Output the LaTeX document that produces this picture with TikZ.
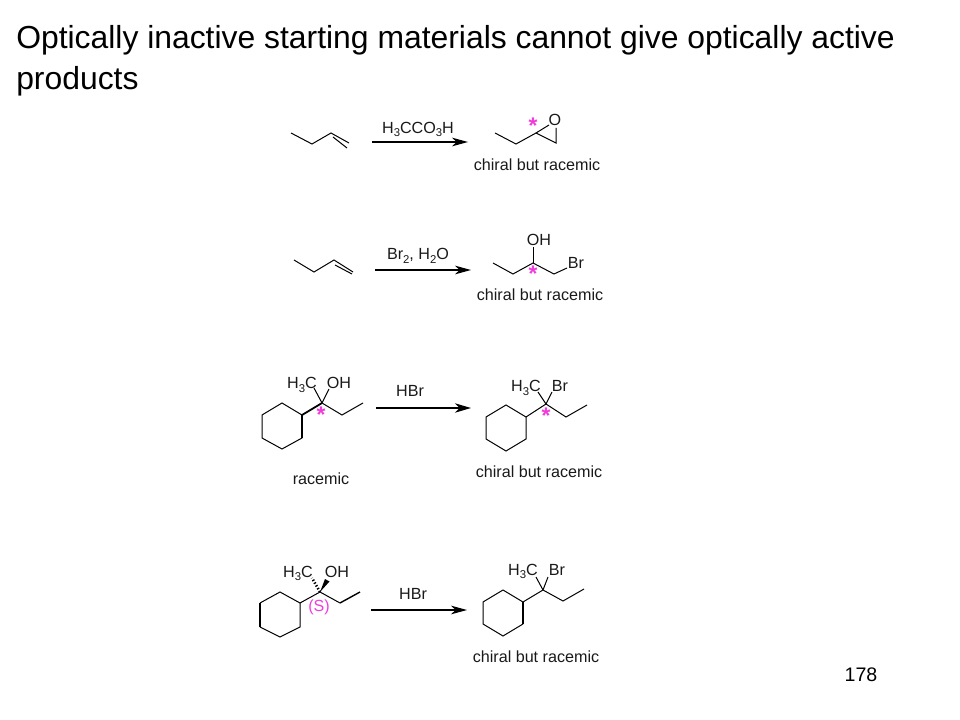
\documentclass[tikz,border=0pt]{standalone}
\usepackage{fontspec}
\setmainfont{Liberation Sans}
\usetikzlibrary{arrows.meta,decorations.markings}
\definecolor{starpink}{RGB}{240,60,220}
\definecolor{txt}{RGB}{25,25,25}
\tikzset{
  bond/.style={draw=black,line width=0.75pt,line join=miter},
  boldbond/.style={draw=black,line width=1.35pt},
  midbond/.style={draw=black,line width=1.05pt},
  rxn/.style={draw=black,line width=0.9pt,-{Stealth[length=12pt,width=6.5pt,inset=3.5pt]}},
  rxnthick/.style={draw=black,line width=1.5pt,-{Stealth[length=12pt,width=7pt,inset=3.5pt]}},
  lab/.style={inner sep=0pt,text=txt,font=\fontsize{12.1pt}{14pt}\selectfont},
  titletext/.style={inner sep=0pt,anchor=base west,text=black,font=\fontsize{23.9pt}{28pt}\selectfont},
  starmark/.style={inner sep=0pt,text=starpink,font=\fontsize{17pt}{17pt}\selectfont\bfseries},
  pagenum/.style={inner sep=0pt,text=black,font=\fontsize{14.7pt}{16pt}\selectfont}
}
\newcommand{\sbs}[1]{\raisebox{-0.22em}{\fontsize{8.5pt}{9pt}\selectfont #1}}
\begin{document}
\begin{tikzpicture}[x=0.75pt,y=-0.75pt]
\useasboundingbox (0,0) rectangle (960,720);
\node[titletext] (t1) at (16,48.5) {Optically inactive starting materials cannot give optically active};
\node[titletext] (t2) at (16,90) {products};
\node[pagenum] (pg) at (861,675) {178};

% reaction 1
\draw[bond] (291,133) -- (312,144) -- (331,133) -- (349,143);
\draw[bond] (333,137) -- (347,148);
\coordinate (a1s) at (372,142); \coordinate (a1e) at (468,142);
\draw[rxn] (a1s) -- (a1e);
\node[lab] (r1) at (418,129.5) {H\sbs{3}CCO\sbs{3}H};
\draw[bond] (495,133) -- (516,144) -- (536,133) -- (556,143) -- (556,128);
\draw[bond] (536,133) -- (549,125);
\node[lab] (o1) at (555,120) {O};
\node[starmark] (s1) at (533,126) {*};
\node[lab] (p1) at (537,165) {chiral but racemic};

% reaction 2
\draw[bond] (294,260) -- (314,272) -- (334,260) -- (353,272);
\draw[bond] (335,265) -- (352,274);
\coordinate (a2s) at (375,270); \coordinate (a2e) at (471,270);
\draw[rxn] (a2s) -- (a2e);
\node[lab] (r2) at (418,256) {Br\sbs{2}, H\sbs{2}O};
\draw[bond] (493,263) -- (513,274) -- (533,263) -- (554,274) -- (567,268);
\draw[bond] (533,263) -- (533,247);
\node[lab] (oh2) at (539,240) {OH};
\node[lab] (br2) at (576,263) {Br};
\node[starmark] (s2) at (533,274) {*};
\node[lab] (p2) at (540,295) {chiral but racemic};

% reaction 3
\draw[bond] (302,415) -- (282,403) -- (262,415) -- (262,438) -- (282,449) -- (302,438);
\draw[boldbond] (302,438) -- (302,415) -- (322,403);
\draw[bond] (322,403) -- (342,415) -- (363,403);
\draw[bond] (322,403) -- (314,388);
\draw[bond] (322,403) -- (329,389);
\node[lab] (m3) at (302,385) {H\sbs{3}C};
\node[lab] (oh3) at (339,383) {OH};
\node[starmark] (s3) at (321,415) {*};
\node[lab] (n3) at (321,479) {racemic};
\coordinate (a3s) at (376,408); \coordinate (a3e) at (471,408);
\draw[rxnthick] (a3s) -- (a3e);
\node[lab] (r3) at (410,391) {HBr};
\draw[bond] (506,405) -- (526,417) -- (526,439) -- (506,451) -- (486,439) -- (486,417) -- cycle;
\draw[bond] (526,417) -- (546,404) -- (566,417) -- (587,405);
\draw[bond] (546,404) -- (538,392);
\draw[bond] (546,404) -- (552,392);
\node[lab] (m3b) at (526,388) {H\sbs{3}C};
\node[lab] (br3) at (560,386) {Br};
\node[starmark] (s3b) at (546,416) {*};
\node[lab] (p3) at (539,472) {chiral but racemic};

% reaction 4
\draw[bond] (260,603) -- (280,592) -- (300,603) -- (300,627) -- (280,637) -- (260,627);
\draw[boldbond] (260,603) -- (260,627);
\draw[bond] (300,603) -- (320,592);
\draw[bond] (320,592) -- (340,603);
\draw[midbond] (340,603) -- (360,592);
\draw[bond,dash pattern=on 1pt off 1.4pt,line width=2pt] (320,592) -- (312,578);
\fill[black] (320,592) -- (325,579) -- (329.5,581.5) -- cycle;
\node[lab] (m4) at (298,573.5) {H\sbs{3}C};
\node[lab] (oh4) at (337,572) {OH};
\node[lab,text=starpink] (s4) at (319,607) {(S)};
\coordinate (a4s) at (371,610); \coordinate (a4e) at (467,610);
\draw[rxn] (a4s) -- (a4e);
\node[lab] (r4) at (413,594) {HBr};
\draw[bond] (503,590) -- (483,602) -- (483,624) -- (503,636) -- (523,624);
\draw[bond] (503,590) -- (523,602);
\draw[boldbond] (523,602) -- (523,624);
\draw[bond] (523,602) -- (543,590) -- (563,601) -- (584,589);
\draw[bond] (543,590) -- (536,577);
\draw[bond] (543,590) -- (548,577);
\node[lab] (m4b) at (523,571.5) {H\sbs{3}C};
\node[lab] (br4) at (557,570) {Br};
\node[lab] (p4) at (536,657) {chiral but racemic};
\end{tikzpicture}
\end{document}
